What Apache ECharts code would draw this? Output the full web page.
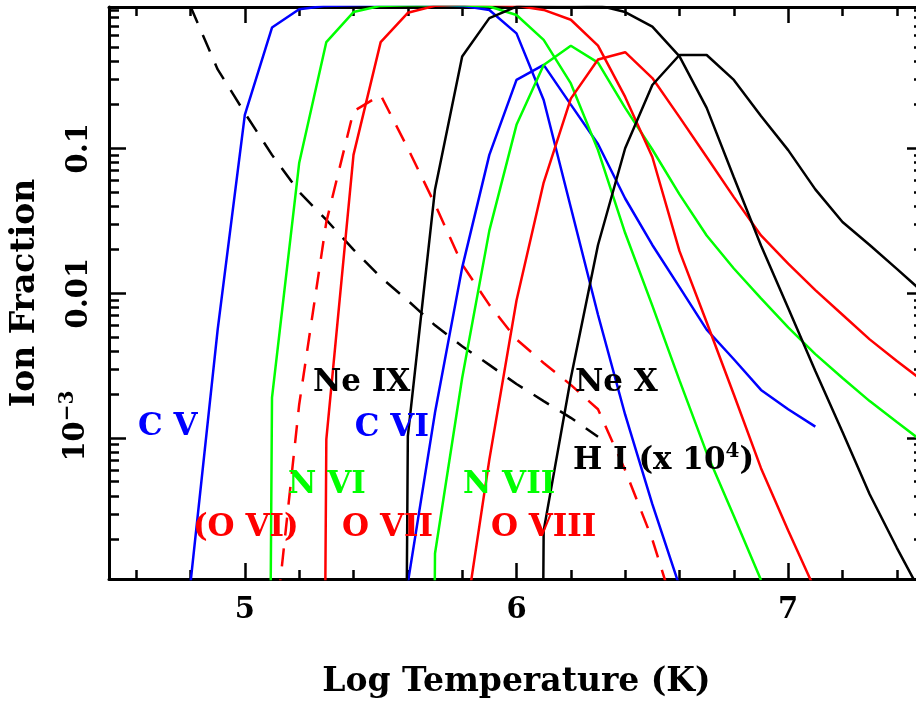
<!DOCTYPE html>
<html>
<head>
<meta charset="utf-8">
<script src="https://cdn.jsdelivr.net/npm/echarts@6/dist/echarts.min.js"></script>
<style>
  html, body { margin: 0; padding: 0; background: #fff; }
  #main { width: 916px; height: 703px; }
</style>
</head>
<body>
<div id="main"></div>
<script>
// log T grid shared by every curve (null = not plotted, 0 = fraction is zero)
const logT = [4.8, 4.9, 5.0, 5.1, 5.2, 5.3, 5.4, 5.5, 5.6, 5.7, 5.8, 5.9, 6.0, 6.1,
  6.2, 6.3, 6.4, 6.5, 6.6, 6.7, 6.8, 6.9, 7.0, 7.1, 7.2, 7.3, 7.4, 7.5]

const cV = [1.0e-4, 5.6e-3, 0.17, 0.68, 0.91, 0.96, 0.97, 0.98, 0.98, 0.97, 0.96, 0.90, 0.62, 0.215,
  0.039, 7.1e-3, 1.45e-3, 3.5e-4, 9.5e-5, null, null, null, null, null, null, null, null, null]
const cVI = [null, null, null, null, null, null, null, null, 1.0e-4, 1.5e-3, 0.015, 0.09, 0.296, 0.376,
  0.2, 0.107, 0.045, 0.0215, 0.011, 5.6e-3, 3.5e-3, 2.15e-3, 1.58e-3, 1.2e-3, null, null, null, null]
const nVI = [null, null, 0, 1.9e-3, 0.079, 0.54, 0.87, 0.96, 0.97, 0.97, 0.97, 0.95, 0.83, 0.56,
  0.28, 0.097, 0.026, 8.2e-3, 2.5e-3, 7.9e-4, 2.9e-4, 1.05e-4, null, null, null, null, null, null]
const nVII = [null, null, null, null, null, null, null, null, 0, 1.6e-4, 2.6e-3, 0.027, 0.145, 0.375,
  0.51, 0.39, 0.19, 0.098, 0.048, 0.025, 0.0148, 9.2e-3, 5.8e-3, 3.8e-3, 2.6e-3, 1.8e-3, 1.29e-3, 9.3e-4]
const oVI = [null, null, null, 3e-5, 1.7e-3, 0.031, 0.18, 0.233, 0.1, 0.041, 0.0158, 8.3e-3, 4.8e-3, 3.3e-3,
  2.33e-3, 1.58e-3, 6e-4, 2e-4, 5e-5, null, null, null, null, null, null, null, null, null]
const oVII = [null, null, null, null, 0, 9.8e-4, 0.09, 0.54, 0.86, 0.96, 0.98, 0.98, 0.96, 0.9,
  0.77, 0.51, 0.226, 0.087, 0.0195, 6.3e-3, 2e-3, 6.2e-4, 2.3e-4, 8.9e-5, null, null, null, null]
const oVIII = [null, null, null, null, null, null, null, null, null, null, 4e-5, 7.1e-4, 8.9e-3, 0.058,
  0.22, 0.41, 0.46, 0.305, 0.164, 0.087, 0.046, 0.025, 0.016, 0.0105, 7.1e-3, 4.8e-3, 3.4e-3, 2.45e-3]
const neIX = [null, null, null, null, null, null, null, 0, 1.03e-3, 0.052, 0.43, 0.79, 0.95, 0.98,
  0.99, 0.97, 0.87, 0.69, 0.43, 0.19, 0.063, 0.0213, 7.9e-3, 2.9e-3, 1.1e-3, 4.1e-4, 1.75e-4, 7.8e-5]
const neX = [null, null, null, null, null, null, null, null, null, null, null, null, 0, 2.3e-4,
  2.6e-3, 0.0215, 0.1, 0.273, 0.44, 0.44, 0.296, 0.167, 0.097, 0.052, 0.031, 0.0215, 0.0147, 0.01]
const hI = [0.95, 0.35, 0.175, 0.09, 0.05, 0.032, 0.02, 0.0129, 8.9e-3, 6e-3, 4.3e-3, 3.2e-3, 2.36e-3, 1.8e-3,
  1.38e-3, 1.02e-3, null, null, null, null, null, null, null, null, null, null, null, null]

// axes
const xRange = [4.5, 7.5]
const xMajor = [5, 6, 7]
const xMinor = [4.6, 4.8, 5.2, 5.4, 5.6, 5.8, 6.2, 6.4, 6.6, 6.8, 7.2, 7.4]
const xTickLabels = ['5', '6', '7']
const yRange = [1.066e-4, 0.943]
const yMajor = [1e-3, 1e-2, 1e-1]
const yTickLabels = ['{p| }{a|10}{s|−3}', '0.01', '0.1']

// curve labels: [logT, fraction] of the left end of each text
const notes = [
  { text: 'C V', color: '#0000ff', at: [4.607, 1.19e-3] },
  { text: 'Ne IX', color: '#000000', at: [5.251, 2.4e-3] },
  { text: 'C VI', color: '#0000ff', at: [5.405, 1.17e-3] },
  { text: 'Ne X', color: '#000000', at: [6.215, 2.4e-3] },
  { text: 'H I (x 10{s|4})', color: '#000000', at: [6.208, 6.9e-4] },
  { text: 'N VI', color: '#00ff00', at: [5.159, 4.74e-4] },
  { text: 'N VII', color: '#00ff00', at: [5.803, 4.74e-4] },
  { text: '(O VI)', color: '#ff0000', at: [4.809, 2.4e-4] },
  { text: 'O VII', color: '#ff0000', at: [5.358, 2.4e-4] },
  { text: 'O VIII', color: '#ff0000', at: [5.906, 2.4e-4] }
]

const lg = (v) => Math.log10(v > 0 ? v : 1e-30)
const FONT = 'DejaVu Serif'

const yMinor = []
for (let n = -4; n <= -1; n++) {
  for (let k = 2; k <= 9; k++) {
    const v = lg(k * Math.pow(10, n))
    if (v > lg(yRange[0]) && v < lg(yRange[1])) yMinor.push(v)
  }
}

const xAxis = (pos, ticks, len, line, labels) => ({
  type: 'value',
  position: pos,
  min: xRange[0],
  max: xRange[1],
  axisLine: { show: line, onZero: false, lineStyle: { color: '#000', width: 3 } },
  axisTick: { show: true, inside: true, length: len, customValues: ticks, lineStyle: { color: '#000', width: 2.5 } },
  axisLabel: labels
    ? {
        show: true,
        customValues: xMajor,
        margin: 17,
        formatter: (v) => xTickLabels[xMajor.indexOf(v)],
        color: '#000', fontFamily: FONT, fontWeight: 'bold', fontSize: 29
      }
    : { show: false },
  splitLine: { show: false },
  name: labels ? 'Log Temperature (K)' : '',
  nameLocation: 'middle',
  nameGap: 87,
  nameTextStyle: { color: '#000', fontFamily: FONT, fontWeight: 'bold', fontSize: 33 }
})

const yMajorLog = yMajor.map(lg)
const rich = {
  p: { fontFamily: FONT, fontWeight: 'bold', fontSize: 20, width: 24, color: '#000' },
  a: { fontFamily: FONT, fontWeight: 'bold', fontSize: 29, lineHeight: 36, color: '#000' },
  s: { fontFamily: FONT, fontWeight: 'bold', fontSize: 20, lineHeight: 20, verticalAlign: 'top', color: '#000' }
}

const yAxis = (pos, ticks, len, line, labels) => ({
  type: 'value',
  position: pos,
  min: lg(yRange[0]),
  max: lg(yRange[1]),
  axisLine: { show: line, onZero: false, lineStyle: { color: '#000', width: 3 } },
  axisTick: { show: true, inside: true, length: len, customValues: ticks, lineStyle: { color: '#000', width: 2.5 } },
  axisLabel: labels
    ? {
        show: true,
        customValues: yMajorLog,
        rotate: 90,
        margin: 15,
        formatter: (v) => yTickLabels[yMajorLog.findIndex((m) => Math.abs(m - v) < 1e-6)],
        color: '#000', fontFamily: FONT, fontWeight: 'bold', fontSize: 29,
        rich
      }
    : { show: false },
  splitLine: { show: false },
  name: labels ? 'Ion Fraction' : '',
  nameLocation: 'middle',
  nameRotate: 90,
  nameGap: 67,
  nameTextStyle: { color: '#000', fontFamily: FONT, fontWeight: 'bold', fontSize: 33 }
})

const curve = (vals, color, dashed) => ({
  type: 'line',
  showSymbol: false,
  symbol: 'none',
  silent: true,
  data: logT.map((t, i) => (vals[i] === null ? null : [t, lg(vals[i])])).filter((d) => d),
  lineStyle: { color, width: 2.5, type: dashed ? [18, 13] : 'solid' }
})

const chart = echarts.init(document.getElementById('main'))
chart.setOption({
  animation: false,
  backgroundColor: '#fff',
  grid: { left: 109, top: 7, width: 815, height: 572, outerBoundsMode: 'none' },
  xAxis: [
    xAxis('bottom', xMajor, 16, true, true),
    xAxis('bottom', xMinor, 9, false, false),
    xAxis('top', xMajor, 16, true, false),
    xAxis('top', xMinor, 9, false, false)
  ],
  yAxis: [
    yAxis('left', yMajorLog, 17, true, true),
    yAxis('left', yMinor, 10, false, false),
    yAxis('right', yMajorLog, 17, true, false),
    yAxis('right', yMinor, 10, false, false)
  ],
  series: [
    curve(hI, '#000000', true),
    curve(oVI, '#ff0000', true),
    curve(cV, '#0000ff'),
    curve(cVI, '#0000ff'),
    curve(nVI, '#00ff00'),
    curve(nVII, '#00ff00'),
    curve(oVII, '#ff0000'),
    curve(oVIII, '#ff0000'),
    curve(neIX, '#000000'),
    curve(neX, '#000000'),
    {
      type: 'scatter',
      symbolSize: 0,
      silent: true,
      z: 5,
      itemStyle: { opacity: 1 },
      emphasis: { disabled: true },
      data: notes.map((n) => ({
        value: [n.at[0], lg(n.at[1])],
        label: {
          show: true,
          position: 'right',
          distance: 0,
          opacity: 1,
          formatter: n.text,
          color: n.color,
          fontFamily: FONT,
          fontWeight: 'bold',
          fontSize: 31,
          lineHeight: 40,
          rich: {
            s: { color: n.color, fontFamily: FONT, fontWeight: 'bold', fontSize: 20, lineHeight: 20, verticalAlign: 'top' }
          }
        }
      }))
    }
  ]
})
</script>
</body>
</html>
